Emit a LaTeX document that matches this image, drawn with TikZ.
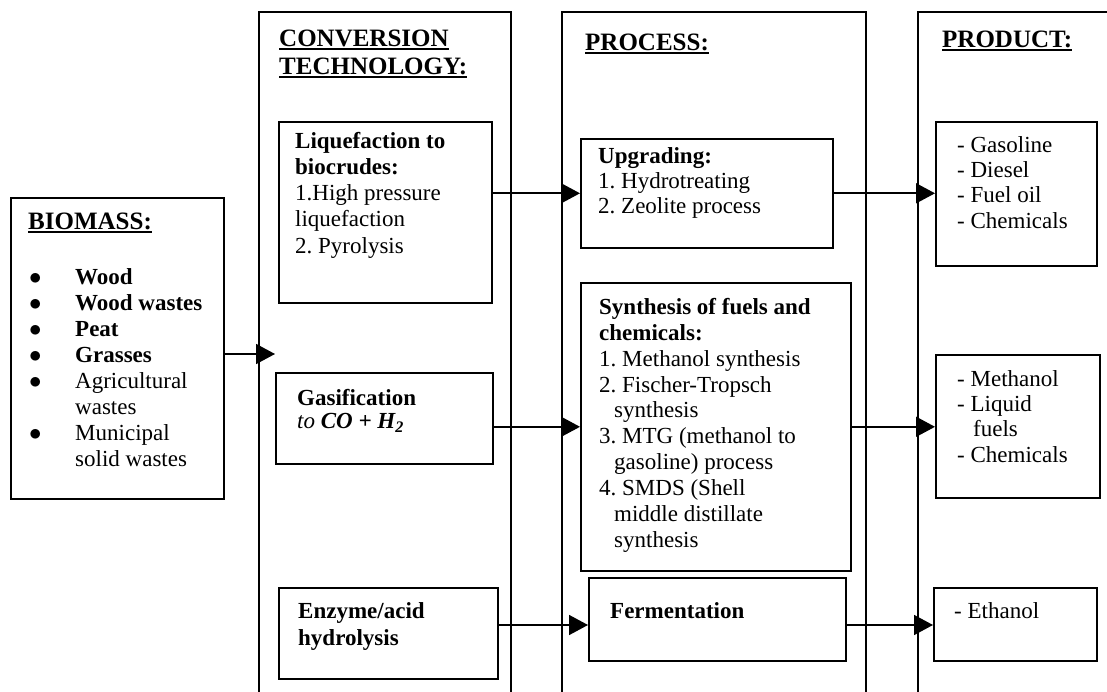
\documentclass[tikz,border=0pt]{standalone}
\usepackage{fontspec}
\setmainfont{Liberation Serif}
\usetikzlibrary{arrows.meta}
\newcommand{\myul}[1]{\setbox0=\hbox{#1}\leavevmode\rlap{\rule[-3.5pt]{\wd0}{1.8pt}}\box0}
\newcommand{\bodyfont}[1]{\fontsize{23}{#1}\selectfont\frenchspacing}
\newcommand{\hdrfont}{\fontsize{25}{28.5}\selectfont\bfseries}
\newcommand{\bul}{\makebox[46pt][l]{$\bullet$}}
\begin{document}
\frenchspacing
\begin{tikzpicture}[x=1pt,y=-1pt,
  box/.style={draw, line width=1.6pt, inner sep=0pt, anchor=north west},
  col/.style={draw, line width=1.6pt},
  txt/.style={anchor=north west, inner sep=0pt, align=left},
  arr/.style={-{Triangle[length=19pt,width=20pt]}, line width=1.6pt}]
\useasboundingbox[fill=white] (0,0) rectangle (1107,692);

% columns (open at the bottom)
\draw[col] (259,700) |- (511,12) -- (511,700);
\draw[col] (562,700) |- (866,12) -- (866,700);
\draw[col] (918,700) |- (1115,12);

% headers
\node[txt, font=\hdrfont] (convhdr) at (279,29.5) {\myul{CONVERSION}\\\myul{TECHNOLOGY:}};
\node[txt, font=\hdrfont] (prochdr) at (585,33.5) {\myul{PROCESS:}};
\node[txt, font=\hdrfont] (prodhdr) at (942,30.5) {\myul{PRODUCT:}};

% biomass
\node[box, minimum width=213pt, minimum height=301pt] (bio) at (10,197) {};
\node[txt, font=\hdrfont] (biohdr) at (28,212.5) {\myul{BIOMASS:}};
\node[txt, font=\bodyfont{26.1}] (biolist) at (29,268) {%
\bul\textbf{Wood}\\
\bul\textbf{Wood wastes}\\
\bul\textbf{Peat}\\
\bul\textbf{Grasses}\\
\bul Agricultural\\
\hspace*{46pt}wastes\\
\bul Municipal\\
\hspace*{46pt}solid wastes};

% conversion technology boxes
\node[box, minimum width=213pt, minimum height=181pt] (liq) at (278,121) {};
\node[txt, font=\bodyfont{26.2}] (liqtxt) at (295,132) {%
\textbf{Liquefaction to}\\
\textbf{biocrudes:}\\
1.High pressure\\
liquefaction\\
2. Pyrolysis};

\node[box, minimum width=217pt, minimum height=91pt] (gas) at (275,372) {};
\node[txt, font=\bodyfont{23}] (gastxt) at (297,389) {%
\textbf{Gasification}\\
{\itshape to \bfseries CO + H\textsubscript{2}}};

\node[box, minimum width=219pt, minimum height=91pt] (enz) at (278,587) {};
\node[txt, font=\bodyfont{27}] (enztxt) at (298,602) {%
\textbf{Enzyme/acid}\\
\textbf{hydrolysis}};

% process boxes
\node[box, minimum width=252pt, minimum height=109pt] (upg) at (580,138) {};
\node[txt, font=\bodyfont{25}] (upgtxt) at (598,147) {%
\textbf{Upgrading:}\\
1. Hydrotreating\\
2. Zeolite process};

\node[box, minimum width=270pt, minimum height=288pt] (syn) at (580,282) {};
\node[txt, font=\bodyfont{25.9}] (syntxt) at (599,298) {%
\textbf{Synthesis of fuels and}\\
\textbf{chemicals:}\\
1. Methanol synthesis\\
2. Fischer-Tropsch\\
\hspace*{15pt}synthesis\\
3. MTG (methanol to\\
\hspace*{15pt}gasoline) process\\
4. SMDS (Shell\\
\hspace*{15pt}middle distillate\\
\hspace*{15pt}synthesis};

\node[box, minimum width=257pt, minimum height=83pt] (fer) at (588,577) {};
\node[txt, font=\bodyfont{25}] (fertxt) at (610,602) {\textbf{Fermentation}};

% product boxes
\node[box, minimum width=161pt, minimum height=144pt] (p1) at (935,121) {};
\node[txt, font=\bodyfont{25.3}] (p1txt) at (957,136) {%
- Gasoline\\
- Diesel\\
- Fuel oil\\
- Chemicals};

\node[box, minimum width=164pt, minimum height=143pt] (p2) at (935,354) {};
\node[txt, font=\bodyfont{25.3}] (p2txt) at (957,370) {%
- Methanol\\
- Liquid\\
\hspace*{16pt}fuels\\
- Chemicals};

\node[box, minimum width=163pt, minimum height=73pt] (p3) at (933,587) {};
\node[txt, font=\bodyfont{25}] (p3txt) at (954,602) {- Ethanol};

% connectors
\coordinate (a0) at (275,354);
\draw[arr] (bio.east |- a0) -- (a0);
\draw[arr] (liq.east |- upg.west) -- (upg.west);
\draw[arr] (upg.east) -- (p1.west |- upg.east);
\draw[arr] (gas.east |- syn.west) -- (syn.west);
\draw[arr] (syn.east) -- (p2.west |- syn.east);
\coordinate (r3) at (0,625);
\draw[arr] (enz.east |- r3) -- (fer.west |- r3);
\draw[arr] (fer.east |- r3) -- (p3.west |- r3);
\end{tikzpicture}
\end{document}
